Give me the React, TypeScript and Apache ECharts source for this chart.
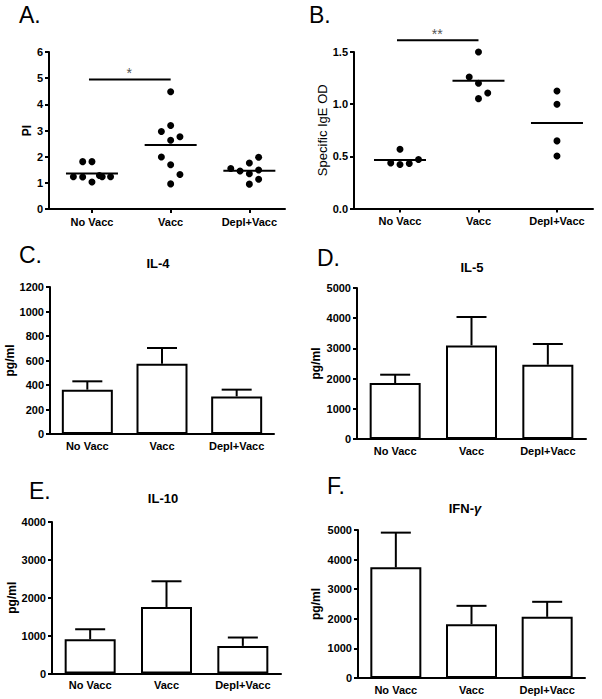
import React, { useEffect, useRef } from "react";
import * as echarts from "echarts";

const groups = ["No Vacc", "Vacc", "Depl+Vacc"];

// Panel A: proliferation index (PI), individual animals
const piNoVacc = [1.81, 1.81, 1.23, 1.22, 1.03, 1.28, 1.23, 1.23];
const piNoVaccJitter = [-1, 0, -2, -1, 0, 0.8, 1.1, 2];
const piVacc = [4.48, 3.19, 2.96, 2.76, 2.63, 1.99, 1.69, 1.32, 0.96];
const piVaccJitter = [0, 0, -1, 1, 0, -1, 0, 1, 0];
const piDepl = [1.55, 1.45, 1.76, 1.98, 1.49, 1.35, 1.14, 0.95];
const piDeplJitter = [-2, -1, 0, 1, 1, 0, 1, 0];
const piSignificance = [0, 1, 4.95];
const piSigLabel = "*";

// Panel B: specific IgE OD
const igeNoVacc = [0.568, 0.437, 0.421, 0.431, 0.469];
const igeNoVaccJitter = [0, -1, 0, 1, 2];
const igeVacc = [1.5, 1.26, 1.2, 1.107, 1.053];
const igeVaccJitter = [0, -1, 0, 1, 0];
const igeDepl = [1.127, 1.0, 0.648, 0.504];
const igeDeplJitter = [0, 0, 0, 0];
const igeSignificance = [0, 1, 1.612];
const igeSigLabel = "**";

// Panels C-F: cytokines, mean + SEM (pg/ml)
const il4Mean = [362, 574, 307];
const il4Err = [68, 128, 55];
const il5Mean = [1854, 3100, 2460];
const il5Err = [275, 940, 686];
const il10Mean = [905, 1757, 729];
const il10Err = [263, 678, 221];
const ifnMean = [3738, 1818, 2066];
const ifnErr = [1173, 620, 508];

const FONT = "'Liberation Sans', Arial, Helvetica, sans-serif";
const JITTER_STEP = 0.118;

const mean = (a: number[]) => a.reduce((s, v) => s + v, 0) / a.length;

const axisLineStyle = { show: true, onZero: false, lineStyle: { color: "#000", width: 2 } };
const tickLabel = { color: "#000", fontWeight: "bold" as const, fontSize: 11, fontFamily: FONT };

function yAxisFor(gridIndex: number, max: number, interval: number, name: string, nameGap: number, bold = true, decimals = 0) {
  return {
    type: "value",
    gridIndex,
    min: 0,
    max,
    interval,
    name,
    nameLocation: "middle",
    nameRotate: 90,
    nameGap,
    nameTextStyle: { color: "#000", fontWeight: bold ? "bold" : "normal", fontSize: bold ? 12 : 13, fontFamily: FONT },
    axisLine: axisLineStyle,
    axisTick: { show: true, length: 4, lineStyle: { color: "#000", width: 2 } },
    axisLabel: { ...tickLabel, margin: 6, formatter: (v: number) => v.toFixed(decimals) },
    splitLine: { show: false },
  };
}

function scatterXAxis(gridIndex: number, min: number, max: number) {
  return {
    type: "value",
    gridIndex,
    min,
    max,
    axisLine: axisLineStyle,
    axisTick: { show: true, length: 4, customValues: [0, 1, 2], lineStyle: { color: "#000", width: 2 } },
    axisLabel: { ...tickLabel, margin: 7, customValues: [0, 1, 2], formatter: (v: number) => groups[Math.round(v)] },
    splitLine: { show: false },
  };
}

function barXAxis(gridIndex: number) {
  return {
    type: "category",
    gridIndex,
    data: groups,
    axisLine: axisLineStyle,
    axisTick: { show: false },
    axisLabel: { ...tickLabel, margin: 6, interval: 0 },
  };
}

function dotSeries(idx: number, values: number[][], jitters: number[][]) {
  const data: number[][] = [];
  values.forEach((vals, g) => vals.forEach((v, i) => data.push([g + jitters[g][i] * JITTER_STEP, v])));
  return {
    type: "scatter",
    xAxisIndex: idx,
    yAxisIndex: idx,
    symbol: "circle",
    symbolSize: 7,
    itemStyle: { color: "#000", opacity: 1 },
    data,
  };
}

function meanSeries(idx: number, values: number[][]) {
  return {
    type: "custom",
    xAxisIndex: idx,
    yAxisIndex: idx,
    data: values.map((vals, g) => [g, mean(vals)]),
    renderItem: (_p: any, api: any) => {
      const p = api.coord([api.value(0), api.value(1)]);
      return {
        type: "line",
        shape: { x1: p[0] - 26, y1: p[1], x2: p[0] + 26, y2: p[1] },
        style: { stroke: "#000", lineWidth: 2 },
      };
    },
  };
}

function sigSeries(idx: number, sig: number[], label: string) {
  return {
    type: "custom",
    xAxisIndex: idx,
    yAxisIndex: idx,
    data: [sig],
    renderItem: (_p: any, api: any) => {
      const a = api.coord([api.value(0), api.value(2)]);
      const b = api.coord([api.value(1), api.value(2)]);
      return {
        type: "group",
        children: [
          { type: "line", shape: { x1: a[0] - 3, y1: a[1], x2: b[0], y2: b[1] }, style: { stroke: "#000", lineWidth: 2 } },
          {
            type: "text",
            x: (a[0] + b[0]) / 2 - 2,
            y: a[1] - 6,
            style: { text: label, fill: "#555", font: `14px ${FONT}`, textAlign: "center", textVerticalAlign: "middle" },
          },
        ],
      };
    },
  };
}

function barSeries(idx: number, means: number[]) {
  return {
    type: "bar",
    xAxisIndex: idx,
    yAxisIndex: idx,
    barWidth: 51,
    itemStyle: { color: "#fff", borderColor: "#000", borderWidth: 2 },
    data: means,
  };
}

function errSeries(idx: number, means: number[], errs: number[]) {
  return {
    type: "custom",
    xAxisIndex: idx,
    yAxisIndex: idx,
    z: 5,
    data: means.map((m, i) => [i, m, errs[i]]),
    renderItem: (_p: any, api: any) => {
      const base = api.coord([api.value(0), api.value(1)]);
      const top = api.coord([api.value(0), api.value(1) + api.value(2)]);
      return {
        type: "group",
        children: [
          { type: "line", shape: { x1: base[0], y1: base[1], x2: top[0], y2: top[1] }, style: { stroke: "#000", lineWidth: 2 } },
          { type: "line", shape: { x1: top[0] - 15, y1: top[1], x2: top[0] + 15, y2: top[1] }, style: { stroke: "#000", lineWidth: 2 } },
        ],
      };
    },
  };
}

function label(text: string, x: number, y: number) {
  return {
    type: "text",
    x,
    y,
    style: { text, fill: "#000", font: `23px ${FONT}`, textAlign: "left", textVerticalAlign: "middle" },
  };
}

function title(text: string, x: number, y: number, rich?: any) {
  return {
    type: "text",
    x,
    y,
    style: {
      text,
      fill: "#000",
      font: `bold 13px ${FONT}`,
      textAlign: "center",
      textVerticalAlign: "middle",
      rich,
    },
  };
}

export default function App() {
  const ref = useRef<HTMLDivElement>(null);
  useEffect(() => {
    if (!ref.current) return;
    const chart = echarts.init(ref.current, undefined, { renderer: "svg" });
    const piVals = [piNoVacc, piVacc, piDepl];
    const piJit = [piNoVaccJitter, piVaccJitter, piDeplJitter];
    const igeVals = [igeNoVacc, igeVacc, igeDepl];
    const igeJit = [igeNoVaccJitter, igeVaccJitter, igeDeplJitter];
    chart.setOption({
      animation: false,
      backgroundColor: "#fff",
      textStyle: { fontFamily: FONT },
      grid: [
        { left: 49, top: 52, width: 236, height: 157 },
        { left: 354, top: 52, width: 239, height: 156.5 },
        { left: 50, top: 287, width: 224, height: 147 },
        { left: 357, top: 288, width: 229, height: 151 },
        { left: 52, top: 522, width: 229, height: 151.5 },
        { left: 358, top: 530, width: 227, height: 148 },
      ],
      xAxis: [
        scatterXAxis(0, -0.546, 2.453),
        scatterXAxis(1, -0.586, 2.459),
        barXAxis(2),
        barXAxis(3),
        barXAxis(4),
        barXAxis(5),
      ],
      yAxis: [
        yAxisFor(0, 6, 1, "PI", 14),
        yAxisFor(1, 1.5, 0.5, "Specific IgE OD", 21, false, 1),
        yAxisFor(2, 1200, 200, "pg/ml", 31),
        yAxisFor(3, 5000, 1000, "pg/ml", 35),
        yAxisFor(4, 4000, 1000, "pg/ml", 34),
        yAxisFor(5, 5000, 1000, "pg/ml", 36),
      ],
      series: [
        dotSeries(0, piVals, piJit),
        meanSeries(0, piVals),
        sigSeries(0, piSignificance, piSigLabel),
        dotSeries(1, igeVals, igeJit),
        meanSeries(1, igeVals),
        sigSeries(1, igeSignificance, igeSigLabel),
        barSeries(2, il4Mean),
        errSeries(2, il4Mean, il4Err),
        barSeries(3, il5Mean),
        errSeries(3, il5Mean, il5Err),
        barSeries(4, il10Mean),
        errSeries(4, il10Mean, il10Err),
        barSeries(5, ifnMean),
        errSeries(5, ifnMean, ifnErr),
      ],
      graphic: [
        label("A.", 19, 15),
        label("B.", 309, 15),
        label("C.", 19, 255),
        label("D.", 317, 258),
        label("E.", 29, 491),
        label("F.", 327, 486),
        title("IL-4", 158, 263),
        title("IL-5", 472, 267),
        title("IL-10", 163, 498),
        title("IFN-{g|γ}", 465, 508, { g: { fontStyle: "italic", fontWeight: "bold", fontSize: 13, fontFamily: FONT } }),
      ],
    });
    return () => chart.dispose();
  }, []);
  return <div ref={ref} style={{ position: "fixed", left: 0, top: 0, width: 602, height: 699, background: "#fff" }} />;
}
